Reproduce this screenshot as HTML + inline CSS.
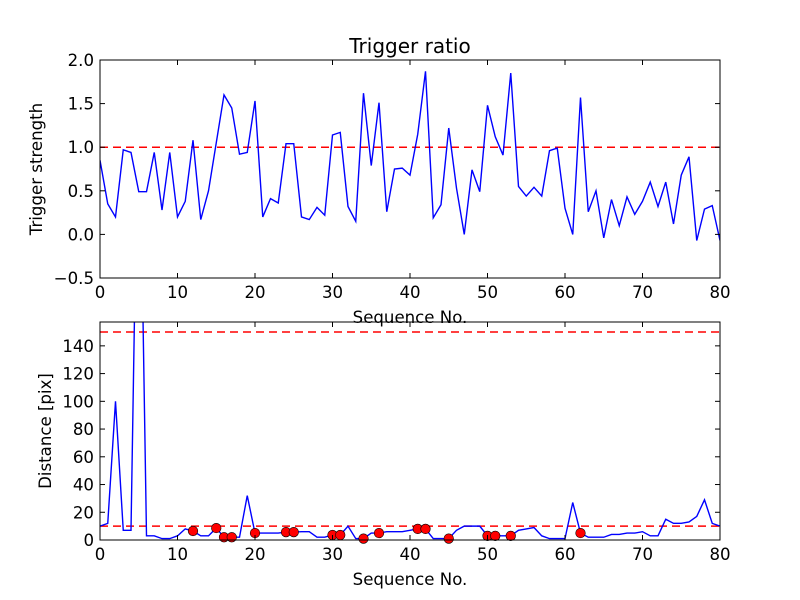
<!DOCTYPE html>
<html><head><meta charset="utf-8"><style>
body{margin:0;background:#fff}
svg{display:block;font-family:"DejaVu Sans","Liberation Sans",sans-serif}
</style></head><body>
<svg id="chart" width="800" height="600"></svg>
<script>
const seqTop=[0.85,0.35,0.2,0.97,0.94,0.49,0.49,0.94,0.28,0.94,0.2,0.38,1.08,0.17,0.5,1.05,1.6,1.45,0.92,0.94,1.53,0.2,0.41,0.36,1.04,1.04,0.2,0.17,0.31,0.22,1.14,1.17,0.32,0.15,1.62,0.79,1.51,0.26,0.75,0.76,0.68,1.15,1.87,0.19,0.34,1.22,0.53,0.0,0.74,0.49,1.48,1.12,0.91,1.85,0.55,0.44,0.54,0.44,0.96,0.99,0.3,0.0,1.57,0.26,0.5,-0.04,0.4,0.1,0.43,0.23,0.38,0.6,0.32,0.6,0.12,0.68,0.89,-0.07,0.29,0.33,-0.07];
const distance=[10,12,100,7,7,350,3,3,1,1,3,8,6.5,3,3,8.6,2,2,2,32,5,5,5,5,5.7,5.7,6,6,2,2,3.6,3.6,10,1,1,5,5,6,6,6,7,8,8,1,1,1,7,10,10,10,3,3,3,3,7,8,9,3,1,1,1,27,5,2,2,2,4,4,5,5,6,3,3,15,12,12,13,17,29,12,10];
const markerIdx=[12,15,16,17,20,24,25,30,31,34,36,41,42,45,50,51,53,62];
const xTicks=[0,10,20,30,40,50,60,70,80];
const yTicksTop=[-0.5,0,0.5,1.0,1.5,2.0];
const yTicksBot=[0,20,40,60,80,100,120,140];
const thrTop=[1.0];
const thrBot=[10,150];

const NS="http://www.w3.org/2000/svg";
const svg=document.getElementById('chart');
function mk(tag,attrs,parent){const e=document.createElementNS(NS,tag);for(const k in attrs)e.setAttribute(k,attrs[k]);(parent||svg).appendChild(e);return e;}
function fmt(v,dec){return (v<0?'\u2212':'')+Math.abs(v).toFixed(dec);}
const FS=16.6;

function panel(opt){
  const {x0,x1,y0,y1,ymin,ymax,name}=opt;
  const X=v=>x0+(v-0)/(80-0)*(x1-x0);
  const Y=v=>y1-(v-ymin)/(ymax-ymin)*(y1-y0);
  const g=mk('g',{});
  
  
  const cp=mk('clipPath',{id:name+'-clip'},g);
  mk('rect',{x:x0,y:y0,width:x1-x0,height:y1-y0},cp);
  opt.thr.forEach(t=>{
    const l=mk('line',{x1:x0,x2:x1,y1:Y(t),y2:Y(t),stroke:'#ff0000','stroke-width':1.5,'stroke-dasharray':'8,5','clip-path':'url(#'+name+'-clip)'},g);
    
    
  });
  const pts=opt.data.map((v,i)=>X(i).toFixed(2)+','+Y(v).toFixed(2)).join(' ');
  const pl=mk('polyline',{points:pts,fill:'none',stroke:'#0000ff','stroke-width':1.4,'clip-path':'url(#'+name+'-clip)'},g);
  
  
  if(opt.markers){
    opt.markers.forEach(i=>{
      const c=mk('circle',{cx:X(i),cy:Y(opt.data[i]),r:4.8,fill:'#ff0000',stroke:'#000','stroke-width':0.6},g);
      
      
    });
  }
  mk('rect',{x:x0,y:y0,width:x1-x0,height:y1-y0,fill:'none',stroke:'#000','stroke-width':1},g);
  xTicks.forEach(t=>{
    mk('line',{x1:X(t),x2:X(t),y1:y1,y2:y1-5,stroke:'#000'},g);
    mk('line',{x1:X(t),x2:X(t),y1:y0,y2:y0+5,stroke:'#000'},g);
    const tx=mk('text',{x:X(t),y:y1+20,'font-size':FS,'text-anchor':'middle'},g);
    tx.textContent=t;
    
    
  });
  opt.yt.forEach(t=>{
    mk('line',{x1:x0,x2:x0+5,y1:Y(t),y2:Y(t),stroke:'#000'},g);
    mk('line',{x1:x1,x2:x1-5,y1:Y(t),y2:Y(t),stroke:'#000'},g);
    const tx=mk('text',{x:x0-6,y:Y(t)+6,'font-size':FS,'text-anchor':'end'},g);
    tx.textContent=opt.dec>0?fmt(t,opt.dec):t;
    
    
  });
  const xl=mk('text',{x:(x0+x1)/2,y:y1+45,'font-size':FS,'text-anchor':'middle'},g);
  xl.textContent='Sequence No.';
  
  
  const yl=mk('text',{x:0,y:0,'font-size':FS,'text-anchor':'middle',transform:'translate('+opt.ylx+','+((y0+y1)/2)+') rotate(-90)'},g);
  yl.textContent=opt.ylabel;
  
  
}
panel({x0:100,x1:720,y0:60,y1:278,ymin:-0.5,ymax:2.0,name:'trigger-panel',thr:thrTop,data:seqTop,yt:yTicksTop,dec:1,ylx:42,ylabel:'Trigger strength'});
panel({x0:100,x1:720,y0:322,y1:540,ymin:0,ymax:157.2,name:'distance-panel',thr:thrBot,data:distance,yt:yTicksBot,dec:0,ylx:51,ylabel:'Distance [pix]',markers:markerIdx});
const title=mk('text',{x:410,y:53,'font-size':20,'text-anchor':'middle'});
title.textContent='Trigger ratio';


</script>
</body></html>
